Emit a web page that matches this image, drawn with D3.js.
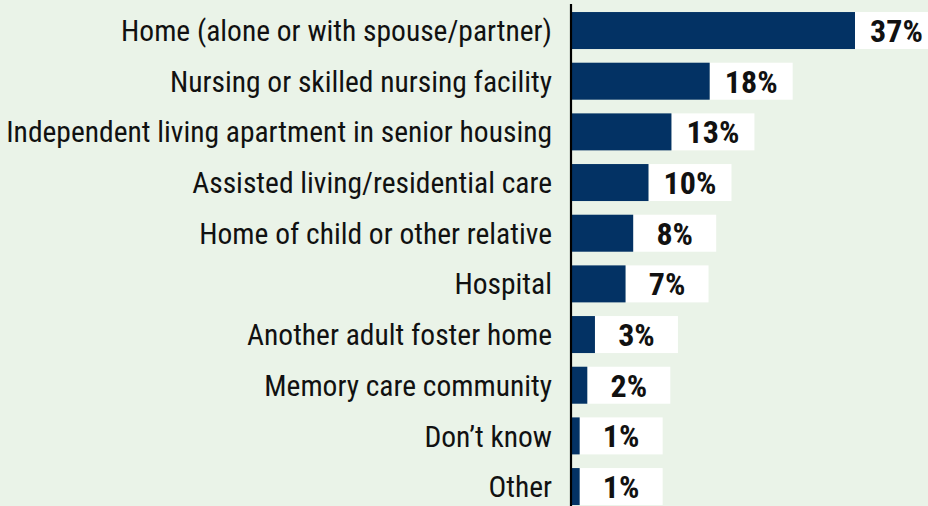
<!DOCTYPE html>
<html lang="en">
<head>
    <meta charset="UTF-8">
    <title>Living situation</title>
    <style>
        body {
            margin: 0;
            background: #eaf3e8;
        }

        text {
            font-family: "Liberation Sans Narrow", "Roboto Condensed", "Liberation Sans", sans-serif;
        }

        .cat {
            font-size: 29.5px;
            fill: #111;
        }

        .val {
            font-size: 32px;
            font-weight: bold;
            fill: #111;
        }
    </style>
</head>
<body>

<div id="chart"></div>

<script src="https://cdn.jsdelivr.net/npm/d3@7"></script>

<script>
    // values
    var categories = [
        "Home (alone or with spouse/partner)",
        "Nursing or skilled nursing facility",
        "Independent living apartment in senior housing",
        "Assisted living/residential care",
        "Home of child or other relative",
        "Hospital",
        "Another adult foster home",
        "Memory care community",
        "Don\u2019t know",
        "Other"
    ];
    var percents = [37, 18, 13, 10, 8, 7, 3, 2, 1, 1];
    var valueLabels = ["37%", "18%", "13%", "10%", "8%", "7%", "3%", "2%", "1%", "1%"];

    var width = 928;
    var height = 506;
    var axisX = 571;

    var svg = d3.select("#chart")
        .append("svg")
        .attr("width", width)
        .attr("height", height);

    svg.append("rect")
        .attr("width", width)
        .attr("height", height)
        .attr("fill", "#eaf3e8");

    var x = d3.scaleLinear()
        .domain([0, 37])
        .range([axisX + 1, 855]);

    var y = d3.scaleBand()
        .domain(categories)
        .range([5.2, 5.2 + 50.67 * categories.length])
        .paddingInner(0.27)
        .paddingOuter(0.135);

    var rows = svg.selectAll("g.row")
        .data(categories)
        .enter()
        .append("g")
        .attr("class", "row")
        .attr("transform", function (d) {
            return "translate(0," + y(d) + ")";
        });

    // white box behind each value
    rows.append("rect")
        .attr("x", function (d, i) { return x(percents[i]); })
        .attr("width", 83)
        .attr("height", y.bandwidth())
        .attr("fill", "#ffffff");

    rows.append("rect")
        .attr("x", x(0))
        .attr("width", function (d, i) { return x(percents[i]) - x(0); })
        .attr("height", y.bandwidth())
        .attr("fill", "#033264");

    rows.append("text")
        .attr("class", "val")
        .attr("x", function (d, i) { return x(percents[i]) + 41.5; })
        .attr("y", y.bandwidth() / 2)
        .attr("dy", "0.36em")
        .attr("text-anchor", "middle")
        .text(function (d, i) { return valueLabels[i]; });

    rows.append("text")
        .attr("class", "cat")
        .attr("x", 552)
        .attr("y", y.bandwidth() / 2)
        .attr("dy", "0.36em")
        .attr("text-anchor", "end")
        .text(function (d) { return d; });

    // vertical axis line
    svg.append("line")
        .attr("x1", axisX)
        .attr("x2", axisX)
        .attr("y1", 4)
        .attr("y2", height)
        .attr("stroke", "#000")
        .attr("stroke-width", 2.2);
</script>
</body>
</html>
